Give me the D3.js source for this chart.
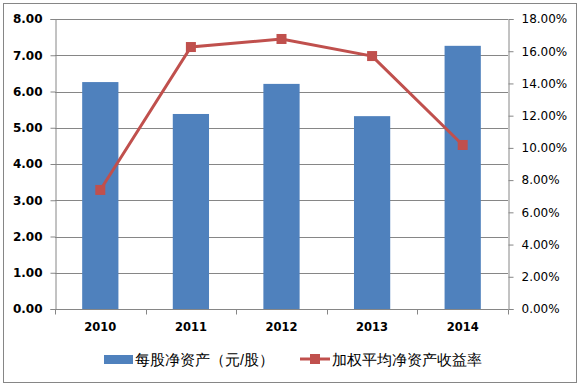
<!DOCTYPE html>
<html>
<head>
<meta charset="utf-8">
<script src="https://cdn.jsdelivr.net/npm/d3@7"></script>
<style>
  body { margin: 0; background: #fff; }
  text { font-family: "Liberation Sans", Arial, sans-serif; }
</style>
</head>
<body>
<div id="chart"></div>
<script>
var w = 580, h = 390;

// Chart data
var years = ["2010", "2011", "2012", "2013", "2014"];
var netAssets = [6.26, 5.38, 6.21, 5.32, 7.26];
var roe = [7.39, 16.26, 16.76, 15.70, 10.18];
var leftTicks = [0, 1, 2, 3, 4, 5, 6, 7, 8];
var rightTicks = [0, 2, 4, 6, 8, 10, 12, 14, 16, 18];
var legendNames = ["每股净资产（元/股）", "加权平均净资产收益率"];

// plot area (avoid the name "top", it clashes with window.top)
var pLeft = 55, pRight = 508, pTop = 19, pBottom = 309;

var svg = d3.select("#chart")
  .append("svg")
  .attr("width", w)
  .attr("height", h);

// outer frame
svg.append("rect")
  .attr("x", 3.5).attr("y", 3.5)
  .attr("width", 573).attr("height", 379)
  .attr("fill", "#fff")
  .attr("stroke", "#868686");

var x = d3.scaleBand()
  .domain(years)
  .range([pLeft, pRight]);

var yL = d3.scaleLinear().domain([0, 8]).range([pBottom, pTop]);
var yR = d3.scaleLinear().domain([0, 18]).range([pBottom, pTop]);

// gridlines
svg.append("g")
  .selectAll("line")
  .data(leftTicks.slice(1))
  .enter().append("line")
  .attr("x1", pLeft).attr("x2", pRight)
  .attr("y1", function(d) { return Math.round(yL(d)) + 0.5; })
  .attr("y2", function(d) { return Math.round(yL(d)) + 0.5; })
  .attr("stroke", "#868686");

// bars
var barW = x.bandwidth() * 0.4;
svg.append("g")
  .selectAll("rect")
  .data(netAssets)
  .enter().append("rect")
  .attr("x", function(d, i) { return x(years[i]) + (x.bandwidth() - barW) / 2; })
  .attr("y", function(d) { return yL(d); })
  .attr("width", barW)
  .attr("height", function(d) { return pBottom - yL(d); })
  .attr("fill", "#4f81bd");

// axes
var axisL = svg.append("g")
  .attr("transform", "translate(" + (pLeft + 0.5) + ",0)")
  .call(d3.axisLeft(yL).tickValues(leftTicks).tickFormat(d3.format(".2f")).tickSize(5).tickPadding(8));

var axisR = svg.append("g")
  .attr("transform", "translate(" + (pRight + 0.5) + ",0)")
  .call(d3.axisRight(yR).tickValues(rightTicks).tickFormat(function(d) { return d3.format(".2f")(d) + "%"; }).tickSize(5).tickPadding(8));

var axisB = svg.append("g")
  .attr("transform", "translate(0," + (pBottom + 0.5) + ")")
  .call(d3.axisBottom(x).tickSize(0).tickPadding(13));

// category boundary ticks on x axis
axisB.selectAll(".bound")
  .data(d3.range(years.length + 1))
  .enter().append("line")
  .attr("class", "bound")
  .attr("x1", function(i) { return Math.round(pLeft + i * x.step()) + 0.5; })
  .attr("x2", function(i) { return Math.round(pLeft + i * x.step()) + 0.5; })
  .attr("y1", 0).attr("y2", 5)
  .attr("stroke", "#868686");

[axisL, axisR, axisB].forEach(function(a) {
  a.selectAll("path.domain").attr("stroke", "#868686");
  a.selectAll(".tick line").attr("stroke", "#868686");
  a.selectAll("text")
    .attr("fill", "#000")
    .style("font-weight", "bold")
    .style("font-family", "'DejaVu Sans', sans-serif")
    .style("font-size", "11.5px");
});
axisL.selectAll("text").style("font-size", "12px");
axisR.selectAll("text").style("font-weight", "normal").style("font-size", "12px");
axisB.select("path.domain").remove();
axisB.append("line")
  .attr("x1", pLeft).attr("x2", pRight)
  .attr("y1", 0).attr("y2", 0)
  .attr("stroke", "#868686");

// line series
var line = d3.line()
  .x(function(d, i) { return x(years[i]) + x.bandwidth() / 2; })
  .y(function(d) { return yR(d); });

svg.append("path")
  .datum(roe)
  .attr("d", line)
  .attr("fill", "none")
  .attr("stroke", "#c0504d")
  .attr("stroke-width", 3);

svg.append("g")
  .selectAll("rect")
  .data(roe)
  .enter().append("rect")
  .attr("x", function(d, i) { return x(years[i]) + x.bandwidth() / 2 - 5; })
  .attr("y", function(d) { return yR(d) - 5; })
  .attr("width", 10).attr("height", 10)
  .attr("fill", "#c0504d");

// legend
var lg = svg.append("g").style("font-family", "'Noto Sans CJK SC', sans-serif").style("font-size", "14.5px");
lg.append("rect")
  .attr("x", 104).attr("y", 355).attr("width", 29).attr("height", 9)
  .attr("fill", "#4f81bd");
lg.append("text")
  .attr("x", 135).attr("y", 365)
  .text(legendNames[0]);

lg.append("line")
  .attr("x1", 300).attr("x2", 330).attr("y1", 359).attr("y2", 359)
  .attr("stroke", "#c0504d").attr("stroke-width", 3);
lg.append("rect")
  .attr("x", 310).attr("y", 354).attr("width", 10).attr("height", 10)
  .attr("fill", "#c0504d");
lg.append("text")
  .attr("x", 332).attr("y", 365)
  .text(legendNames[1]);
</script>
</body>
</html>
